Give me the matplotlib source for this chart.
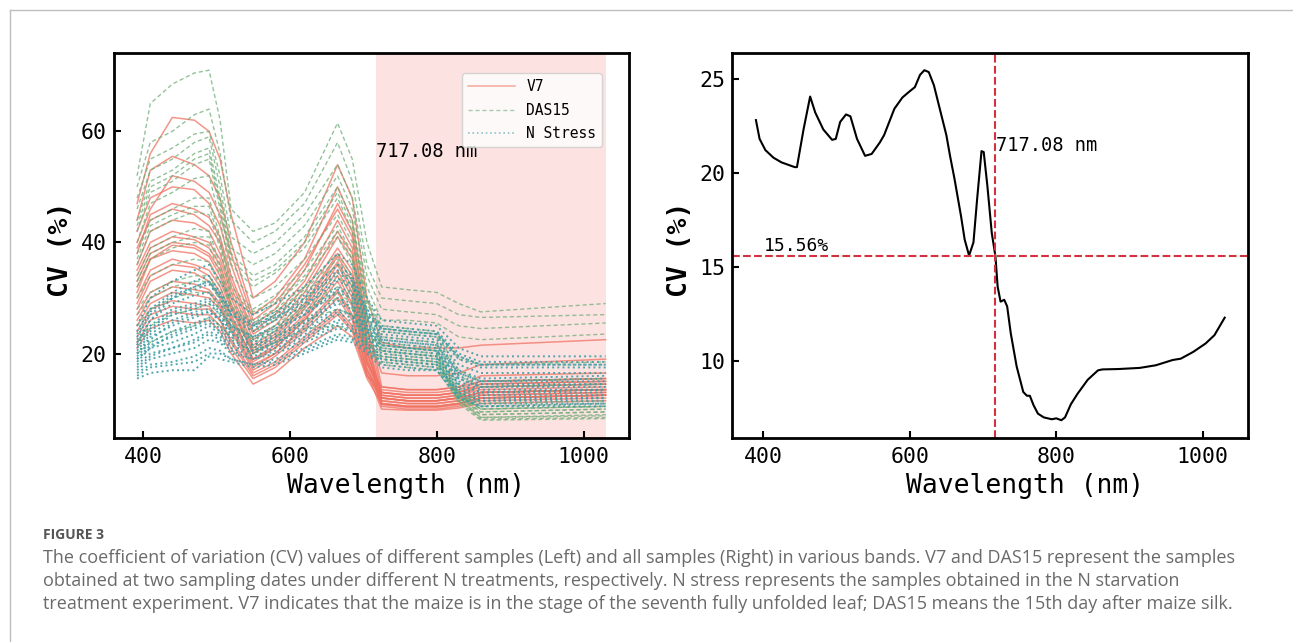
import numpy as np
import matplotlib
matplotlib.use('Agg')
import matplotlib.pyplot as plt
from matplotlib.lines import Line2D

plt.rcParams['font.family'] = ['DejaVu Sans Mono', 'DejaVu Sans']

# 왼쪽 그림: 파장 격자 (nm)
wl = [392, 410, 440, 470, 490, 505, 520, 550, 580, 620, 665, 685, 705, 725, 760, 800, 830, 860, 1030]

# V7 (실선)
v7 = [
    [47, 56, 62.5, 62, 60, 55, 45, 30, 33, 40, 54, 48, 30, 22, 21, 21, 21, 21.5, 22.5],
    [44, 53, 55.5, 54, 52, 48, 40, 27, 30, 37, 50, 44, 27, 14, 13.5, 13.5, 14, 15, 15.5],
    [42, 48, 50, 49.5, 47, 43, 36, 25, 28, 35, 47, 42, 25, 13, 12.5, 12.5, 13, 14, 14.5],
    [40, 46, 52, 51, 49, 45, 38, 26, 29, 36, 46, 41, 24, 16.5, 16, 16, 16.5, 18, 19],
    [39, 44, 46, 45, 43, 40, 33, 23.5, 26, 32, 42, 38, 22.5, 12.5, 12, 12, 12.5, 13.5, 14],
    [38, 45, 47, 46, 44.5, 41, 34, 24, 27, 33, 44, 39, 23, 12, 11.5, 11.5, 12, 13, 13.5],
    [36, 42, 44, 43.5, 42, 38, 32, 22.5, 25, 31, 41, 37, 22, 11.5, 11, 11, 11.5, 12.5, 13],
    [35, 40, 42, 41, 40, 37, 31, 21.5, 24, 30, 39, 35, 21, 11, 10.5, 10.5, 11, 12, 12.5],
    [34, 39, 41, 40.5, 39, 36, 30, 21, 23.5, 29, 38, 34, 20.5, 12, 11.5, 11.5, 12, 13, 13.5],
    [33, 38, 40, 39.5, 38, 35, 29, 20.5, 23, 28.5, 37.5, 33, 20, 13, 12.5, 12.5, 13, 14.5, 15],
    [32, 37, 39.5, 39, 37.5, 34, 28.5, 20, 22.5, 28, 36.5, 32, 19.5, 10.8, 10.3, 10.3, 10.8, 12, 12.5],
    [31, 37, 38.5, 38, 36.5, 33, 28, 20, 22, 27, 36, 31, 19, 12, 11.5, 11.5, 12, 13, 13.5],
    [30, 35, 37, 36, 35, 32, 27, 19, 21.5, 26.5, 35, 30, 18.5, 10.5, 10, 10, 10.5, 11.5, 12],
    [29, 34, 36, 35.5, 34, 31, 26.5, 19, 21, 26, 34, 29, 18.5, 13, 12.5, 12.5, 13, 14.5, 15],
    [28, 33, 35, 34.5, 33, 30, 26, 18.5, 21, 26, 33, 28.5, 18, 14, 13.5, 13.5, 14, 16, 16.5],
    [27, 31, 33, 32.5, 31.5, 29, 25, 18, 20, 25, 31.5, 27, 17.5, 11.5, 11, 11, 11.5, 12.5, 13],
    [26, 30, 32, 31.5, 31, 28.5, 24.5, 17.5, 20, 24.5, 31, 26.5, 17, 11, 10.5, 10.5, 11, 12, 12.5],
    [25, 29, 31, 30.5, 30, 28, 24, 17, 19.5, 24, 30, 26, 17, 12.5, 12, 12, 12.5, 14, 14.5],
    [24, 28, 29.5, 29, 28.5, 26, 22.5, 16.5, 18.5, 23, 28, 25, 16.5, 10, 9.8, 9.8, 10.2, 11, 11.5],
    [23, 27, 28.5, 28, 28, 26, 22, 16, 18, 22.5, 27.5, 24.5, 16, 12, 11.5, 11.5, 12, 13, 13.5],
    [22, 26, 27.5, 27, 27, 25, 21, 15.5, 17.5, 22, 27, 24, 16, 13.5, 13, 13, 13.5, 15, 15.5],
    [21, 24.5, 26, 25.5, 26, 24, 20, 14.5, 16.5, 21, 25, 23, 15.5, 11, 10.5, 10.5, 11, 12, 12.5],
]

# DAS15 (파선)
das15 = [
    [52, 65, 68.5, 70.5, 71, 62, 46, 42, 43.5, 49, 61.5, 55, 40, 32, 31.5, 31, 29, 27.5, 29],
    [50, 58, 60, 63, 64, 56, 44, 40, 42, 47, 58, 51, 36, 30, 29.5, 29, 27, 26.5, 27],
    [48, 55, 57, 59.5, 60, 52, 41, 38, 40, 45, 54, 48, 34, 28, 27.5, 27, 25, 24.5, 25.5],
    [46, 53, 55, 58, 59, 50, 39, 36, 38, 43, 52, 46, 32, 26, 26, 25.5, 23, 22.5, 23.5],
    [44, 51, 53, 56, 57, 48, 38, 34, 36, 41, 50, 44, 30, 25, 24.5, 24, 19, 18, 18.5],
    [43, 50, 52, 55, 56, 47, 37, 33, 35, 40, 49, 43, 29.5, 24.5, 24, 23.5, 17, 15, 15.5],
    [42, 49, 51, 54, 55, 46, 36, 32, 34.5, 39, 48, 42, 29, 24, 23.5, 23, 16, 14, 14.5],
    [40, 47, 49, 51.5, 52, 44, 34, 30, 32, 37, 45, 40, 28, 23, 22.5, 22, 14, 11, 11.5],
    [38, 44, 46, 48, 48, 41, 32, 28, 30.5, 35, 43, 38, 27, 22, 21.5, 21, 13, 10, 10.5],
    [37, 43, 45, 46.5, 46.5, 40, 31, 27.5, 29.5, 34, 42, 37, 26.5, 21.5, 21, 20.5, 12.5, 9.5, 10],
    [36, 42, 44, 45.5, 45, 39, 30, 27, 29, 33.5, 41, 36, 26, 21.5, 21, 20.5, 12.5, 9, 9.5],
    [34, 39, 41, 42.5, 42, 36, 29, 26, 28, 32, 38, 34, 25, 21, 20.5, 20, 12, 8.5, 9],
    [33, 38, 40, 41, 41, 35, 28.5, 25.5, 27.5, 31.5, 37, 33, 24.5, 20.5, 20, 19.5, 11.5, 8.5, 8.8],
    [32, 37, 39, 40, 39.5, 34, 28, 25, 27, 31, 36, 32, 24, 20.5, 20, 19.5, 11.5, 8.2, 8.5],
    [30, 34, 36, 37, 36.5, 32, 27, 24, 26, 30, 34, 31, 23, 20, 19.5, 19, 11, 8, 8.3],
    [28, 31, 33, 34, 34, 30, 26, 23, 25, 29, 32, 29.5, 22, 19.5, 19, 18.5, 12, 9.5, 10],
    [27, 30, 32, 33, 33, 29.5, 25.5, 22.5, 24.5, 28.5, 31, 29, 22, 19.5, 19, 18.5, 12.5, 10, 10.5],
    [25, 28, 30, 31, 31, 28, 25, 22, 24, 28, 30, 28, 22, 19, 18.5, 18, 13, 10.5, 11],
    [22, 25, 27, 28, 29, 27, 24, 21, 23, 26, 28, 27, 21, 18.5, 18, 17.5, 12.5, 10, 10.5],
    [20, 22, 24, 25, 26.5, 25, 23, 20, 22, 24.5, 25, 24, 21, 18, 17.5, 17, 11.5, 9, 9.5],
]

# N Stress (점선)
nstress = [
    [25, 30, 33, 35, 36, 33, 30, 27, 29, 32, 38, 36, 30, 26, 25.5, 25, 21, 19.5, 19.5],
    [24, 28, 31, 33, 34, 31, 28, 25.5, 27.5, 30.5, 36, 34, 28, 25, 24.5, 24, 20, 18.5, 18.5],
    [23.5, 27.5, 30.5, 32, 33, 30.5, 27.5, 25, 27, 30, 35, 33.5, 27.5, 24.5, 24, 23.5, 19.5, 18, 18],
    [23, 27, 30, 31.5, 32.5, 30, 27, 24.5, 26.5, 29.5, 34.5, 33, 27, 24, 23.5, 23, 19, 17.5, 17.5],
    [22.5, 26, 29, 30.5, 31, 29, 26, 24, 26, 28.5, 33, 32, 26.5, 23.5, 23, 22.5, 18, 16.5, 16.5],
    [21.5, 26, 30, 32, 33, 30.5, 27, 25, 26.5, 29, 33.5, 32.5, 27, 24.5, 24, 23.5, 19.5, 18, 18],
    [22, 25, 28, 29, 30, 28, 25, 23, 25, 27.5, 32, 31, 26, 23, 22.5, 22, 17, 15.5, 16],
    [21.5, 24.5, 27.5, 28.5, 29.5, 27.5, 25, 23, 24.5, 27, 31.5, 30.5, 25.5, 22.5, 22, 21.5, 16.5, 15, 15.5],
    [21, 24, 27, 28, 29, 27, 24.5, 22.5, 24, 27, 31, 30, 25, 22.5, 22, 21.5, 16.5, 15, 15],
    [20.5, 23.5, 26, 27.5, 28, 26.5, 24, 22, 23.5, 26, 30, 29, 24.5, 22, 21.5, 21, 16, 14.5, 14.5],
    [20, 23, 25, 26.5, 27.5, 26, 23.5, 21.5, 23, 25.5, 29, 28, 24, 21.5, 21, 20.5, 15.5, 14, 14],
    [20, 22.5, 25.5, 27, 27.5, 26, 23.5, 21.5, 23, 25.5, 29.5, 28.5, 24, 21.5, 21, 20.5, 15.5, 14, 14.5],
    [19.5, 22, 24, 25.5, 26.5, 25, 23, 21, 22.5, 25, 28, 27, 23.5, 21, 20.5, 20, 15, 13.5, 13.5],
    [19, 21.5, 23, 24.5, 25.5, 24, 22, 20.5, 22, 24, 27, 26.5, 23, 20.5, 20, 19.5, 14.5, 13, 13],
    [19, 21, 23.5, 25, 26, 24.5, 22.5, 20.5, 22, 24.5, 27.5, 27, 23, 20.5, 20, 19.5, 14.5, 13, 13.5],
    [18.5, 21, 22, 23.5, 25, 23.5, 21.5, 20, 21.5, 23.5, 26, 26, 22.5, 20, 19.5, 19, 14, 12.5, 12.5],
    [18, 20, 21, 22.5, 24, 23, 21, 19.5, 21, 23, 25.5, 25, 22, 19.5, 19, 18.5, 13.5, 12, 12],
    [17.5, 19.5, 21, 22, 23.5, 22.5, 20.5, 19, 20.5, 22.5, 25, 24.5, 21.5, 19, 18.5, 18, 13, 11.5, 12],
    [17, 19, 20, 21, 22.5, 22, 20, 19, 20, 22, 24.5, 24, 21.5, 19, 18.5, 18, 13, 11.5, 11.5],
    [16.5, 18, 18.5, 19.5, 21, 20.5, 19, 18, 19, 21, 23.5, 23, 21, 18.5, 18, 17.5, 12.5, 11, 11],
    [16, 17.5, 18, 18.5, 20, 20, 19, 18, 18.5, 20.5, 23, 22.5, 20.5, 18, 17.5, 17, 12, 10.5, 11],
    [15.5, 16.5, 17, 17, 19.5, 19, 18.5, 17.5, 18, 20, 22.5, 22, 20, 17.5, 17, 17, 12, 10.5, 10.5],
]

# 오른쪽 그림: 전체 샘플 CV
rx = [390, 395, 403, 414, 425, 443, 446, 455, 464, 471, 482, 494, 499, 505, 513, 519, 528, 539, 548, 559,
      565, 579, 590, 599, 607, 614, 620, 626, 633, 641, 650, 655, 661, 670, 675, 681, 687, 692, 698, 701,
      706, 712, 717, 720, 724, 729, 733, 738, 746, 755, 760, 764, 769, 775, 783, 794, 800, 807, 812, 820,
      829, 843, 857, 863, 885, 914, 936, 959, 970, 987, 1004, 1016, 1030]
ry = [22.8, 21.8, 21.2, 20.8, 20.55, 20.3, 20.3, 22.3, 24.05, 23.2, 22.3, 21.75, 21.8, 22.7, 23.1, 23.0, 21.8, 20.9, 21.0, 21.6,
      22.0, 23.4, 24.0, 24.3, 24.55, 25.2, 25.45, 25.35, 24.65, 23.4, 22.0, 20.9, 19.7, 17.7, 16.45, 15.6, 16.3, 18.6, 21.15, 21.1,
      19.3, 16.8, 15.56, 13.95, 13.15, 13.25, 12.9, 11.45, 9.7, 8.35, 8.15, 8.15, 7.65, 7.2, 7.0, 6.9, 6.95, 6.85, 7.0, 7.7,
      8.25, 9.0, 9.5, 9.55, 9.57, 9.63, 9.77, 10.05, 10.12, 10.48, 10.93, 11.37, 12.3]

cut_wl = 717.08
cut_cv = 15.56

c_v7 = '#f07262'
c_das = '#6fae78'
c_ns = '#3f9fa6'
c_red = '#d2313d'

fig = plt.figure(figsize=(12.93, 6.42), dpi=100)
ax1 = fig.add_axes([0.0879, 0.3182, 0.3986, 0.5997])
ax2 = fig.add_axes([0.5665, 0.3182, 0.3988, 0.5997])

# 왼쪽
ax1.axvspan(cut_wl, wl[-1], color='#fde2e2', zorder=0, lw=0)
for row in v7:
    ax1.plot(wl, row, color=c_v7, lw=1.1, alpha=0.75, zorder=2)
for row in das15:
    ax1.plot(wl, row, color=c_das, lw=1.0, ls=(0, (3, 2)), alpha=0.75, zorder=3)
for row in nstress:
    ax1.plot(wl, row, color=c_ns, lw=1.4, ls=':', alpha=0.9, zorder=4)
ax1.text(cut_wl, 56.4, '717.08 nm', fontsize=13.5, va='center', ha='left')

handles = [Line2D([], [], color=c_v7, lw=1.1, alpha=0.6),
           Line2D([], [], color=c_das, lw=1.0, ls=(0, (3, 2)), alpha=0.6),
           Line2D([], [], color=c_ns, lw=1.2, ls=':', alpha=0.6)]
ax1.legend(handles, ['V7', 'DAS15', 'N Stress'], loc='upper right',
           bbox_to_anchor=(0.948, 0.947), borderaxespad=0, fontsize=10.5,
           handlelength=3.2, labelspacing=0.6)
ax1.set_yticks([20, 40, 60])

# 오른쪽
ax2.plot(rx, ry, color='black', lw=1.5)
ax2.axvline(cut_wl, color=c_red, ls='--', lw=1.5)
ax2.axhline(cut_cv, color=c_red, ls='--', lw=1.5)
ax2.text(cut_wl + 1, 21.45, '717.08 nm', fontsize=13.5, va='center', ha='left')
ax2.text(401, cut_cv + 0.05, '15.56%', fontsize=13, va='bottom', ha='left')
ax2.set_yticks([10, 15, 20, 25])

for ax in (ax1, ax2):
    ax.set_xticks([400, 600, 800, 1000])
    for s in ax.spines.values():
        s.set_linewidth(2)
    ax.tick_params(direction='in', length=5, width=1.5, labelsize=15.5, pad=5)
    ax.tick_params(axis='x', pad=7)
    ax.set_xlabel('Wavelength (nm)', fontsize=19)
    ax.set_ylabel('CV (%)', fontsize=19, fontweight='bold')
    ax.xaxis.set_label_coords(0.567, -0.092)
    ax.yaxis.set_label_coords(-0.077, 0.49)
    ax.xaxis.label.set_va('top')

# 테두리
fig.add_artist(Line2D([10 / 1293, 1], [1 - 10 / 642, 1 - 10 / 642], color='#bdbdbd', lw=1))
fig.add_artist(Line2D([10 / 1293, 10 / 1293], [0, 1 - 10 / 642], color='#bdbdbd', lw=1))

# 캡션
cap = ['The coefficient of variation (CV) values of different samples (Left) and all samples (Right) in various bands. V7 and DAS15 represent the samples',
       'obtained at two sampling dates under different N treatments, respectively. N stress represents the samples obtained in the N starvation',
       'treatment experiment. V7 indicates that the maize is in the stage of the seventh fully unfolded leaf; DAS15 means the 15th day after maize silk.']
fig.text(43 / 1293, 1 - 535 / 642, 'FIGURE 3', fontsize=10, fontweight='bold', color='#555555',
         family='Open Sans', va='center')
for i, line in enumerate(cap):
    fig.text(43 / 1293, 1 - (563 + 23 * i) / 642, line, fontsize=13, color='#6a6a6a',
             family='Open Sans', va='baseline')

fig.savefig('out.png', dpi=100)
